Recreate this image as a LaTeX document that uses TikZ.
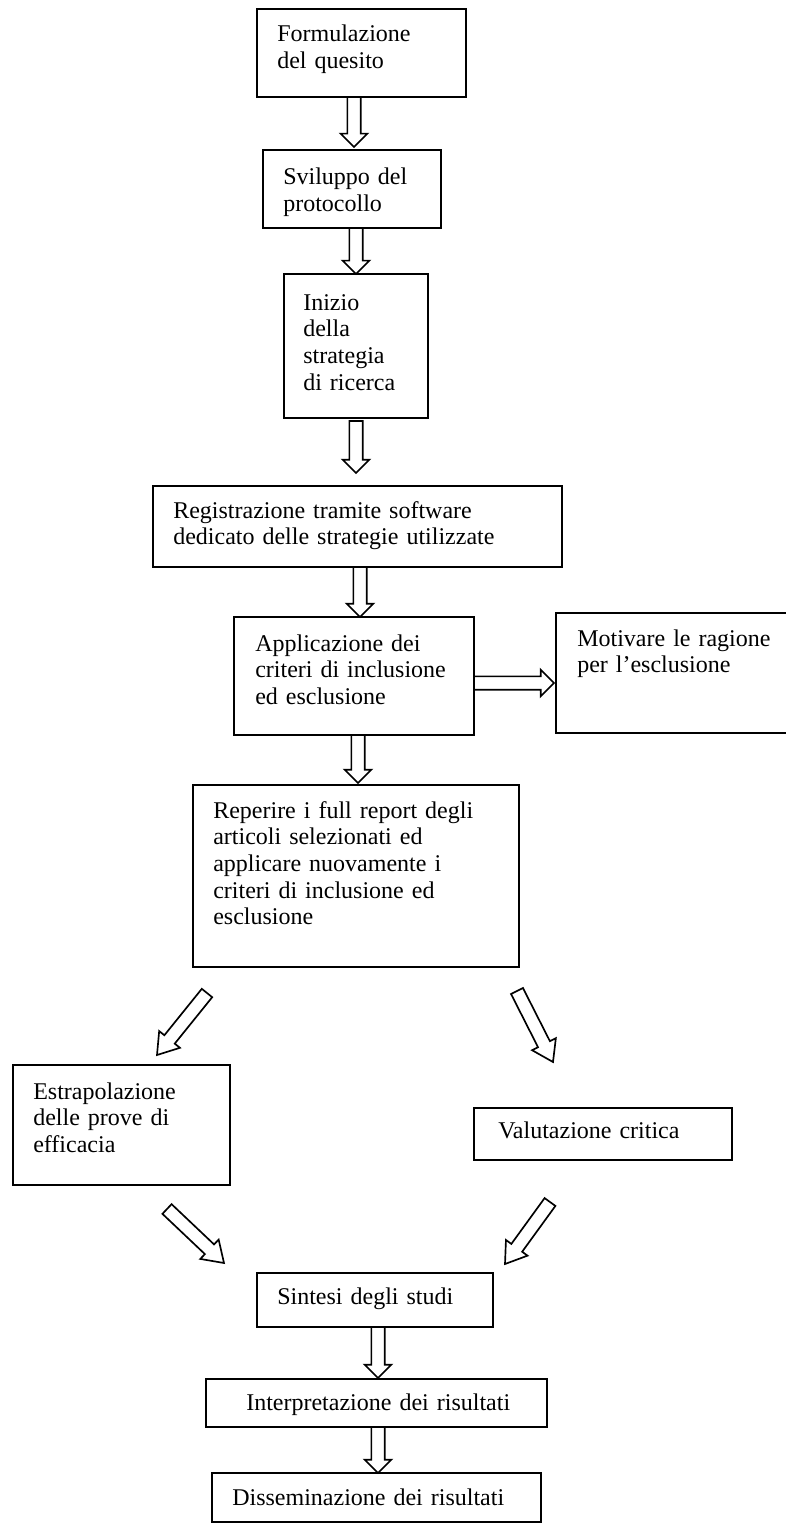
\documentclass[tikz,border=0pt]{standalone}
\usepackage{fontspec}
\setmainfont{Liberation Serif}
\usetikzlibrary{calc,fit}

\tikzset{
  box/.style={draw, line width=1.5pt, inner sep=0pt, rectangle},
  txt/.style={anchor=base west, inner sep=0pt, align=left, text width=12cm,
              font=\fontsize{18pt}{20pt}\selectfont},
  arrowline/.style={draw, line width=1.25pt, fill=white, line join=miter},
}

% hollow block arrow from #2 (tail) to #3 (tip); #1 = head length
\newcommand{\flowarrow}[3][10pt]{%
  \coordinate (fa-h) at ($(#3)!#1!(#2)$);
  \path[arrowline] ($(#2)!5pt!90:(#3)$)
    -- ($(fa-h)!5pt!-90:(#2)$)
    -- ($(fa-h)!10pt!-90:(#2)$)
    -- (#3)
    -- ($(fa-h)!10pt!90:(#2)$)
    -- ($(fa-h)!5pt!90:(#2)$)
    -- ($(#2)!5pt!-90:(#3)$)
    -- cycle;
}

\begin{document}
\begin{tikzpicture}[x=0.75pt, y=-0.75pt]
\useasboundingbox (0,0) rectangle (785,1523);
\fill[white] (0,0) rectangle (785,1523);

% boxes
\node[box, fit={(257,9)(466,97)}]      (b1) {};
\node[box, fit={(263,150)(441,228)}]   (b2) {};
\node[box, fit={(284,274)(428,418)}]   (b3) {};
\node[box, fit={(153,486)(562,567)}]   (b4) {};
\node[box, fit={(234,617)(474,735)}]   (b5) {};
\node[box, fit={(556,613)(792,733)}]   (b6) {};
\node[box, fit={(193,785)(519,967)}]   (b7) {};
\node[box, fit={(13,1065)(230,1185)}]  (b8) {};
\node[box, fit={(474,1108)(732,1160)}] (b9) {};
\node[box, fit={(257,1273)(493,1327)}] (b10) {};
\node[box, fit={(206,1379)(547,1427)}] (b11) {};
\node[box, fit={(212,1473)(541,1522)}] (b12) {};

% texts
\node[txt] (t1) at (277,42)   {Formulazione\\del quesito};
\node[txt] (t2) at (283,185)  {Sviluppo del\\protocollo};
\node[txt] (t3) at (303,310)  {Inizio\\della\\strategia\\di ricerca};
\node[txt] (t4) at (173,518)  {Registrazione tramite software\\dedicato delle strategie utilizzate};
\node[txt] (t5) at (255,651)  {Applicazione dei\\criteri di inclusione\\ed esclusione};
\node[txt] (t6) at (577,646)  {Motivare le ragione\\per l’esclusione};
\node[txt] (t7) at (213,818)  {Reperire i full report degli\\articoli selezionati ed\\applicare nuovamente i\\criteri di inclusione ed\\esclusione};
\node[txt] (t8) at (33,1099)  {Estrapolazione\\delle prove di\\efficacia};
\node[txt] (t9) at (498,1138) {Valutazione critica};
\node[txt] (t10) at (277,1304) {Sintesi degli studi};
\node[txt] (t11) at (246,1410) {Interpretazione dei risultati};
\node[txt] (t12) at (232,1505) {Disseminazione dei risultati};

% arrow end points
\coordinate (a1s) at (354,97);   \coordinate (a1e) at (354,147);
\coordinate (a2s) at (356,228);  \coordinate (a2e) at (356,274);
\coordinate (a3s) at (356,421);  \coordinate (a3e) at (356,473);
\coordinate (a4s) at (360,567);  \coordinate (a4e) at (360,617);
\coordinate (a5s) at (358,735);  \coordinate (a5e) at (358,783);
\coordinate (a6s) at (474,683);  \coordinate (a6e) at (554,683);
\coordinate (d1s) at (207,993);  \coordinate (d1e) at (157,1055);
\coordinate (d2s) at (517,991);  \coordinate (d2e) at (553,1062);
\coordinate (d3s) at (167,1209); \coordinate (d3e) at (224,1263);
\coordinate (d4s) at (550,1202); \coordinate (d4e) at (505,1264);
\coordinate (a7s) at (378,1327); \coordinate (a7e) at (378,1378);
\coordinate (a8s) at (378,1427); \coordinate (a8e) at (378,1473);

% arrows
\flowarrow{a1s}{a1e}
\flowarrow{a2s}{a2e}
\flowarrow{a3s}{a3e}
\flowarrow{a4s}{a4e}
\flowarrow{a5s}{a5e}
\flowarrow{a6s}{a6e}
\flowarrow[15pt]{d1s}{d1e}
\flowarrow[15pt]{d2s}{d2e}
\flowarrow[15pt]{d3s}{d3e}
\flowarrow[15pt]{d4s}{d4e}
\flowarrow{a7s}{a7e}
\flowarrow{a8s}{a8e}
\end{tikzpicture}
\end{document}
